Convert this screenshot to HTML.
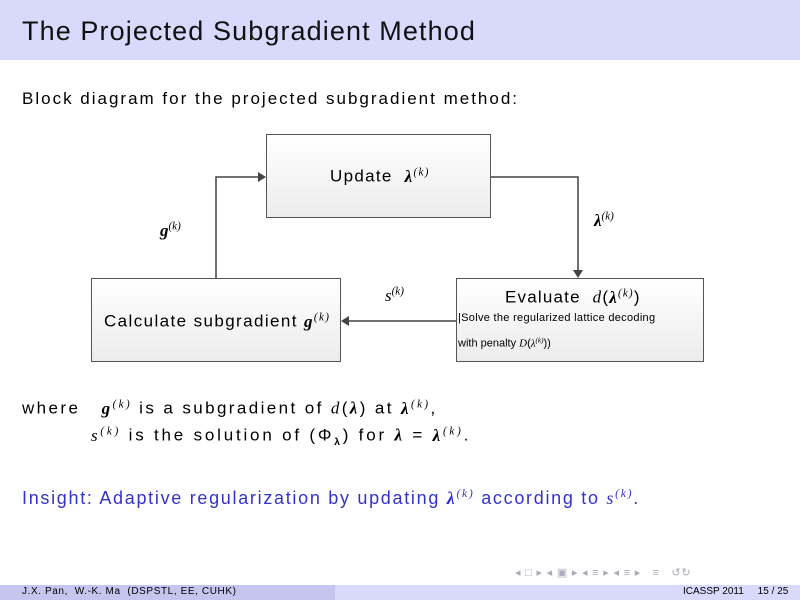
<!DOCTYPE html>
<html><head><style>
body{margin:0;width:800px;height:600px;position:relative;background:#fff;font-family:"Liberation Sans",sans-serif;overflow:hidden}
.a{position:absolute;white-space:nowrap}
.box{position:absolute;border:1.5px solid #555;background:linear-gradient(#fff,#ececec);box-sizing:border-box}
i{font-family:"Liberation Serif",serif}
sup{font-size:65%}
</style></head><body>
<div class="a" style="left:0;top:0;width:800px;height:60px;background:#d9d9fc"></div>
<div class="a" style="left:22px;top:16px;font-size:27px;color:#111;letter-spacing:1.1px">The Projected Subgradient Method</div>
<div class="a" style="left:22px;top:89px;font-size:17px;letter-spacing:2px">Block diagram for the projected subgradient method:</div>

<div class="box" style="left:266px;top:134px;width:225px;height:84px"></div>
<div class="box" style="left:91px;top:278px;width:250px;height:84px"></div>
<div class="box" style="left:456px;top:278px;width:248px;height:84px"></div>

<svg class="a" style="left:0;top:0" width="800" height="600">
<g stroke="#444" stroke-width="1.5" fill="none">
<polyline points="491,177 578,177 578,272"/>
<polyline points="216,278 216,177 260,177"/>
<line x1="456" y1="321" x2="347" y2="321"/>
</g>
<g fill="#444">
<polygon points="573,270 583,270 578,278"/>
<polygon points="258,172 258,182 266,177"/>
<polygon points="349,316 349,326 341,321"/>
</g>
</svg>

<div class="a" style="left:330px;top:166px;font-size:17px;letter-spacing:1.3px">Update &nbsp;<i><b>λ</b><sup>(k)</sup></i></div>
<div class="a" style="left:104px;top:311px;font-size:17px;letter-spacing:1.4px">Calculate subgradient <i><b>g</b><sup>(k)</sup></i></div>
<div class="a" style="left:505px;top:287px;font-size:17px;letter-spacing:1.2px">Evaluate &nbsp;<i>d</i>(<i><b>λ</b><sup>(k)</sup></i>)</div>
<div class="a" style="left:458px;top:312px;font-size:11px;letter-spacing:0.3px">|Solve the regularized lattice decoding</div>
<div class="a" style="left:458px;top:336px;font-size:11px">with penalty <i>D</i>(<i>λ<sup>(k)</sup></i>))</div>
<div class="a" style="left:160px;top:220px;font-size:17px"><i><b>g</b><sup>(k)</sup></i></div>
<div class="a" style="left:594px;top:210px;font-size:17px"><i><b>λ</b><sup>(k)</sup></i></div>
<div class="a" style="left:385px;top:285px;font-size:17px"><i>s<sup>(k)</sup></i></div>

<div class="a" style="left:22px;top:398px;font-size:17px;letter-spacing:2.4px">where &nbsp;&nbsp;<i><b>g</b><sup>(k)</sup></i> is a subgradient of <i>d</i>(<i><b>λ</b></i>) at <i><b>λ</b><sup>(k)</sup></i>,</div>
<div class="a" style="left:91px;top:425px;font-size:17px;letter-spacing:2.8px"><i>s<sup>(k)</sup></i> is the solution of (Φ<sub style="font-size:60%"><b>λ</b></sub>) for <i><b>λ</b></i> = <i><b>λ</b><sup>(k)</sup></i>.</div>
<div class="a" style="left:22px;top:487px;font-size:18px;color:#3333cc;letter-spacing:1.7px">Insight: Adaptive regularization by updating <i><b>λ</b><sup>(k)</sup></i> according to <i>s<sup>(k)</sup></i>.</div>

<div class="a" style="left:515px;top:566px;font-size:11px;color:#aab;letter-spacing:0.8px">◂ □ ▸ ◂ ▣ ▸ ◂ ≡ ▸ ◂ ≡ ▸ &nbsp; ≡ &nbsp; ↺↻</div>
<div class="a" style="left:0;top:585px;width:335px;height:15px;background:#c5c5f0"></div>
<div class="a" style="left:335px;top:585px;width:465px;height:15px;background:#d9d9fc"></div>
<div class="a" style="left:22px;top:586px;font-size:10px;letter-spacing:0.6px">J.X. Pan, &nbsp;W.-K. Ma &nbsp;(DSPSTL, EE, CUHK)</div>
<div class="a" style="left:683px;top:586px;font-size:10px">ICASSP 2011 &nbsp;&nbsp;&nbsp;&nbsp;15 / 25</div>
</body></html>
